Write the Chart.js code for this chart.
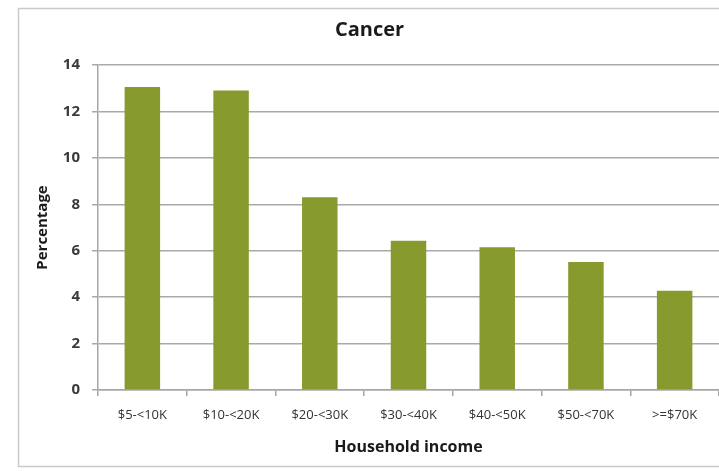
<!DOCTYPE html>
<html>
<head>
<meta charset="utf-8">
<title>Cancer</title>
<script src="https://cdn.jsdelivr.net/npm/chart.js@4/dist/chart.umd.min.js"></script>
<style>
  html, body { margin: 0; padding: 0; background: #ffffff; overflow: hidden; }
  canvas { display: block; }
</style>
</head>
<body>
<canvas id="chartCancer" width="719" height="471"></canvas>
<script>
var incomeGroups = ["$5-<10K", "$10-<20K", "$20-<30K", "$30-<40K", "$40-<50K", "$50-<70K", ">=$70K"];
var cancerPct = [13.05, 12.9, 8.3, 6.43, 6.15, 5.51, 4.28];
var yTicks = [0, 2, 4, 6, 8, 10, 12, 14];

var fontFamily = "'Open Sans', Lato, 'Liberation Sans', sans-serif";

// white page with the thin grey frame round the chart
var frame = {
  id: "frame",
  beforeDraw: function (chart) {
    var c = chart.ctx;
    c.save();
    c.fillStyle = "#ffffff";
    c.fillRect(0, 0, chart.width, chart.height);
    c.strokeStyle = "#c9c9c9";
    c.lineWidth = 1.5;
    c.strokeRect(18.5, 8.5, chart.width, 458);
    c.restore();
  },
};

var ctx = document.getElementById("chartCancer");
var chartCancer = new Chart(ctx, {
  type: "bar",
  data: {
    labels: incomeGroups,
    datasets: [
      {
        data: cancerPct,
        backgroundColor: "#879a2d",
        borderWidth: 0,
        barPercentage: 0.4,
        categoryPercentage: 1,
      },
    ],
  },
  options: {
    responsive: false,
    animation: false,
    devicePixelRatio: 1,
    layout: {
      padding: { left: 20, top: 8, right: 0, bottom: 6 },
    },
    plugins: {
      legend: { display: false },
      tooltip: { enabled: false },
      title: {
        display: true,
        text: "Cancer",
        color: "#1a1a1a",
        font: { family: fontFamily, size: 20, weight: "bold" },
        padding: { top: 10, bottom: 23 },
      },
    },
    scales: {
      x: {
        offset: true,
        afterFit: function (scale) {
          scale.height = 75;
        },
        border: { display: true, color: "#a6a6a6", width: 1.5 },
        grid: {
          display: true,
          offset: true,
          drawOnChartArea: false,
          drawTicks: true,
          tickLength: 6,
          color: "#a6a6a6",
          lineWidth: 1.5,
        },
        ticks: {
          color: "#333333",
          padding: 11,
          maxRotation: 0,
          autoSkip: false,
          font: { family: fontFamily, size: 13 },
        },
        title: {
          display: true,
          text: "Household income",
          color: "#1a1a1a",
          font: { family: fontFamily, size: 16, weight: "bold" },
          padding: { top: 10, bottom: 8 },
        },
      },
      y: {
        min: 0,
        max: 14,
        afterFit: function (scale) {
          scale.width = 78;
        },
        afterBuildTicks: function (scale) {
          scale.ticks = yTicks.map(function (v) {
            return { value: v };
          });
        },
        border: { display: true, color: "#a6a6a6", width: 1.5 },
        grid: {
          color: "#a9a9a9",
          lineWidth: 1.5,
          drawTicks: true,
          tickLength: 6,
        },
        ticks: {
          color: "#3a3a3a",
          padding: 12,
          font: { family: fontFamily, size: 15, weight: "bold" },
        },
        title: {
          display: true,
          text: "Percentage",
          color: "#1a1a1a",
          font: { family: fontFamily, size: 15, weight: "bold" },
          padding: { top: 14, bottom: 0 },
        },
      },
    },
  },
  plugins: [frame],
});
</script>
</body>
</html>
